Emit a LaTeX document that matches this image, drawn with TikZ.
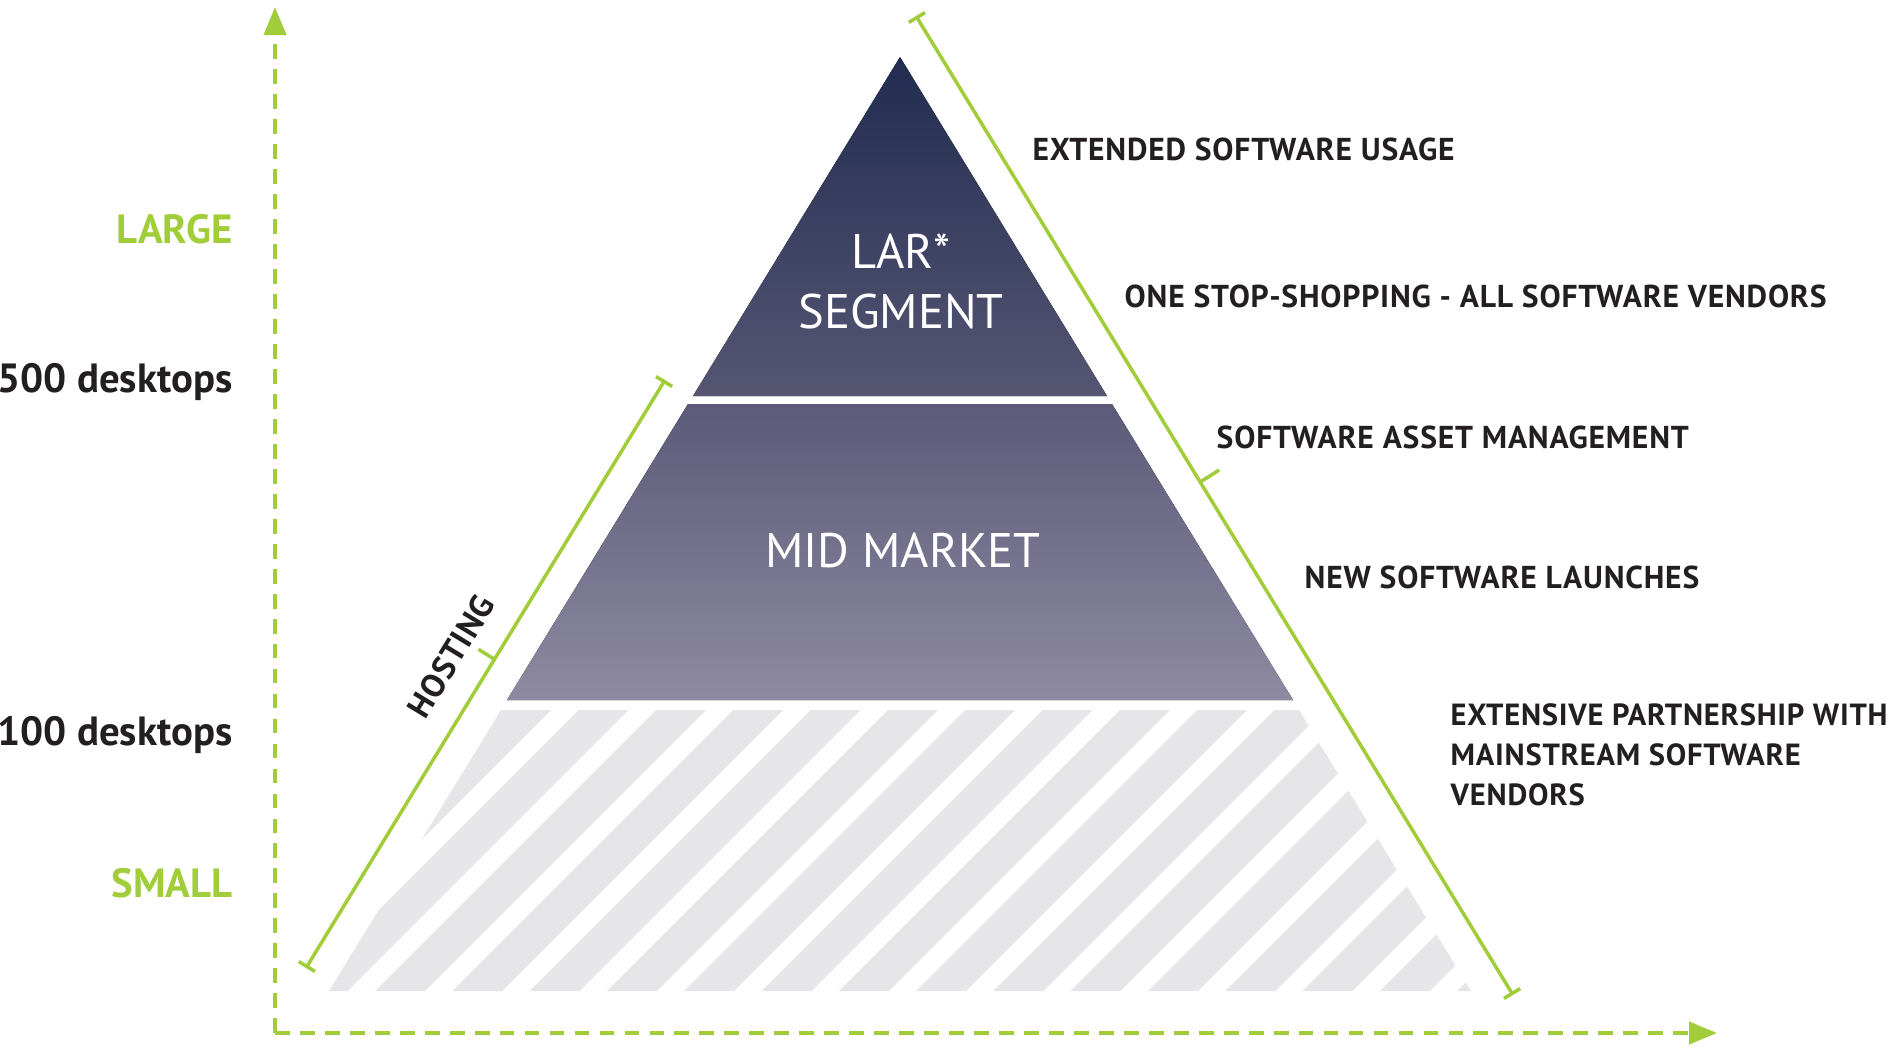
\documentclass[tikz,border=0pt]{standalone}
\usepackage{fontspec}
\setmainfont{PT Sans}
\newfontfamily\perkfont[LetterSpace=2.5]{PT Sans}
\usepackage{tikz}
\usetikzlibrary{arrows.meta,calc,positioning}

\definecolor{limegreen}{RGB}{160,205,57}
\definecolor{inkdark}{RGB}{35,31,32}
\definecolor{navytop}{RGB}{33,44,80}
\definecolor{navylow}{RGB}{86,86,115}
\definecolor{midtop}{RGB}{91,90,121}
\definecolor{midlow}{RGB}{142,138,161}
\definecolor{stripegray}{RGB}{230,230,232}

\begin{document}
\begin{tikzpicture}[x=0.01cm,y=-0.01cm,
                    axis/.style={draw=limegreen,line width=1.15pt,dash pattern=on 4.2pt off 2.9pt,
                                 -{Triangle[length=0.28cm,width=0.22cm]}},
                    bracket/.style={draw=limegreen,line width=1pt,{Bar[width=0.19cm]}-{Bar[width=0.19cm]}},
                    notch/.style={draw=limegreen,line width=1pt}]
\tikzstyle{every node}=[inner sep=0pt]
\tikzstyle{tier}=[text=white,font=\fontsize{13.8}{17}\selectfont,align=center]
\tikzstyle{perk}=[text=inkdark,font=\perkfont\bfseries\fontsize{9}{11.3}\selectfont,anchor=base west,align=left]
\tikzstyle{sizelabel}=[text=limegreen,font=\bfseries\fontsize{11.6}{13}\selectfont,anchor=base east]
\tikzstyle{seats}=[text=inkdark,font=\bfseries\fontsize{11.6}{13}\selectfont,anchor=base east]

\useasboundingbox (0,0) rectangle (1897,1048);

  % pyramid: top tier, mid tier, striped small tier
  \coordinate (apex) at (900,57);
  \fill[top color=navytop,bottom color=navylow] (apex) -- (1107,396) -- (693,396) -- cycle;
  \fill[top color=midtop,bottom color=midlow] (688,404) -- (1112,404) -- (1293,700) -- (507,700) -- cycle;
  \begin{scope}
    \clip (501,710) -- (1299,710) -- (1471,991) -- (329,991) -- cycle;
    \foreach \i in {-3,...,15}
      \fill[stripegray] (375+77.3*\i,991) -- ++(50,0) -- ++(281,-281) -- ++(-50,0) -- cycle;
  \end{scope}

  \node[tier,anchor=north] (lar) at (901,233) {LAR*\\SEGMENT};
  \node[tier]              (mid) at (903,550) {MID MARKET};

  % axes
  \coordinate (origin) at (275,1033);
  \coordinate (ytip)   at (275,7);
  \coordinate (xtip)   at (1717,1033);
  \draw[axis] (origin) -- (ytip);
  \draw[axis] (origin) -- (xtip);

  \node[sizelabel] (large)  at (233,243) {LARGE};
  \node[seats]     (top500) at (233,392) {500 desktops};
  \node[seats]     (top100) at (233,745) {100 desktops};
  \node[sizelabel] (small)  at (233,897) {SMALL};

  % brackets along the sides
  \coordinate (rtop) at (916,16);
  \coordinate (rbot) at (1513,995);
  \draw[bracket] (rtop) -- (rbot);
  \draw[notch] ($(rtop)!0.476!(rbot)$) -- ++(19,-12);

  \coordinate (ltop) at (665,380);
  \coordinate (lbot) at (306,968);
  \draw[bracket] (lbot) -- (ltop);
  \draw[notch] ($(lbot)!0.525!(ltop)$) -- ++(-16,-10);

  \node[perk,anchor=center,rotate=58.6,font=\perkfont\bfseries\fontsize{9.4}{11}\selectfont]
       (hosting) at (451,656) {HOSTING};

  \node[perk] (usage)   at (1032,160) {EXTENDED SOFTWARE USAGE};
  \node[perk] (shop)    at (1124,307) {ONE STOP-SHOPPING - ALL SOFTWARE VENDORS};
  \node[perk] (sam)     at (1216,448) {SOFTWARE ASSET MANAGEMENT};
  \node[perk] (launch)  at (1304,588) {NEW SOFTWARE LAUNCHES};
  \node[perk,anchor=north west,font=\perkfont\bfseries\fontsize{8.7}{11.3}\selectfont] (partner) at (1450,703)
       {EXTENSIVE PARTNERSHIP WITH\\MAINSTREAM SOFTWARE\\VENDORS};

\end{tikzpicture}
\end{document}
